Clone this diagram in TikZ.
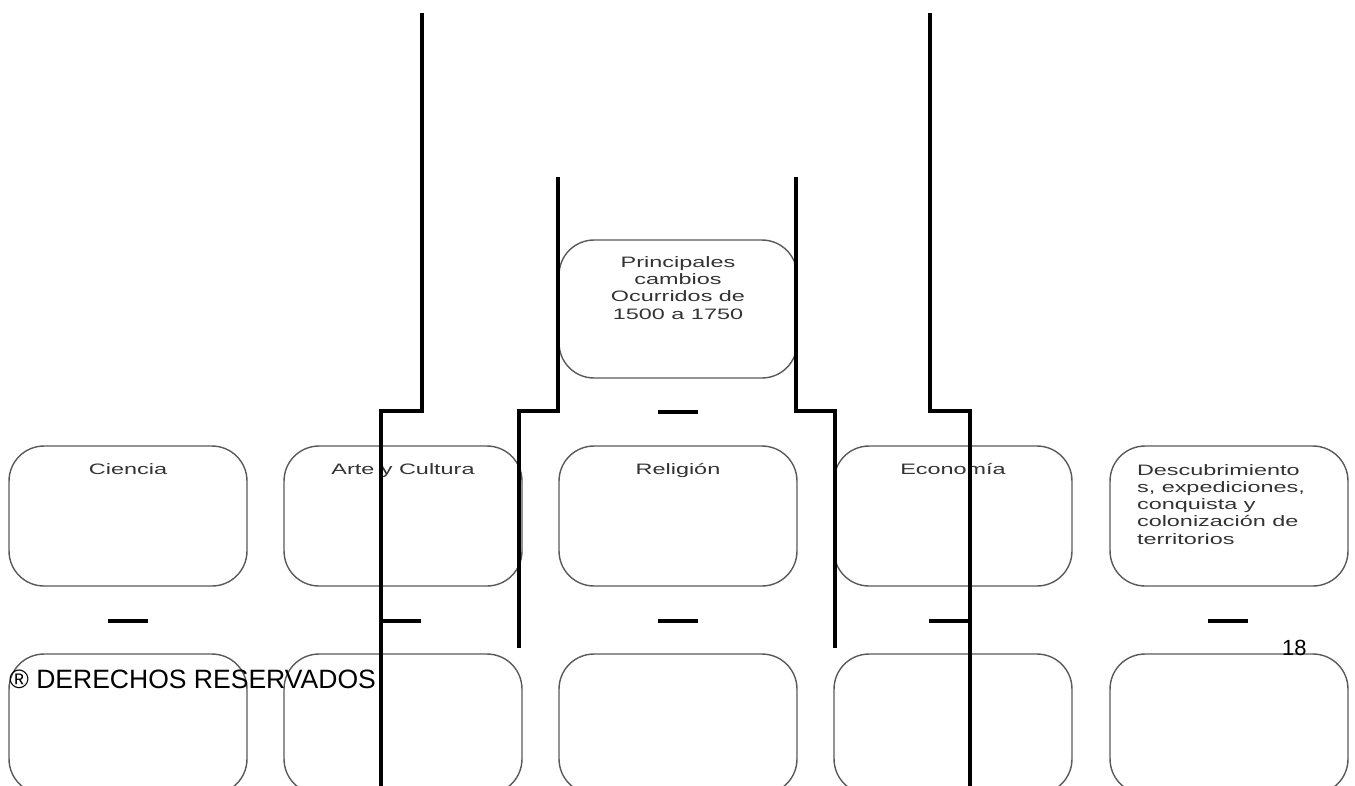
\documentclass[tikz,border=0pt]{standalone}
\usepackage{fontspec}
\setmainfont{Liberation Sans}
\newfontfamily\ancho[FakeStretch=1.55]{Liberation Sans}

\begin{document}
\begin{tikzpicture}[x=0.02cm, y=-0.02cm,
    caja/.style={draw=black!65, line width=0.8pt, rounded corners=0.7cm,
      minimum width=4.76cm, minimum height=2.8cm, inner sep=0pt},
    rotulo/.style={text=black!80, font=\ancho\fontsize{8.6}{9.8}\selectfont,
      inner sep=0pt, anchor=base},
    raya/.style={line width=2.2pt}]
  \useasboundingbox (0,0) rectangle (1355,785);
  \clip (0,0) rectangle (1355,785);

  % cuadro central
  \node[caja, minimum height=2.76cm] (central) at (678,309) {};
  \node[rotulo, align=center] (tcentral) at (678,319)
    {Principales\\cambios\\Ocurridos de\\1500 a 1750};

  % fila de temas
  \node[caja] (ciencia) at (128,516) {};
  \node[caja] (arte) at (403,516) {};
  \node[caja] (religion) at (678,516) {};
  \node[caja] (economia) at (953,516) {};
  \node[caja, minimum width=4.76cm] (descubr) at (1229,516) {};

  \node[rotulo] (tciencia) at (128,474) {Ciencia};
  \node[rotulo] (tarte) at (403,474) {Arte y Cultura};
  \node[rotulo] (treligion) at (678,474) {Religión};
  \node[rotulo] (teconomia) at (953,474) {Economía};
  \node[rotulo, align=left] (tdescubr) at (1221,544)
    {Descubrimiento\\s, expediciones,\\conquista y\\colonización de\\territorios};

  % fila vacia de abajo
  \foreach \c/\x in {a/128, b/403, c/678, d/953, e/1229}
    \node[caja] (vacia-\c) at (\x,724) {};

  % rayitas
  \draw[raya] (658,412) -- (698,412);
  \foreach \x in {128, 401, 678, 949, 1228}
    \draw[raya] (\x-20,621) -- (\x+20,621);

  % lineas largas
  \draw[raya] (422,13) |- (381,411) -- (381,790);
  \draw[raya] (558,177) |- (519,411) -- (519,648);
  \draw[raya] (796,177) |- (835,411) -- (835,648);
  \draw[raya] (930,13) |- (970,411) -- (970,790);

  \node[anchor=base west, inner sep=0pt, font=\fontsize{15.1}{17}\selectfont]
    (derechos) at (9,688) {® DERECHOS RESERVADOS};
  \node[anchor=base east, inner sep=0pt, font=\fontsize{12.5}{15}\selectfont]
    (pagina) at (1307,655) {18};
\end{tikzpicture}
\end{document}
